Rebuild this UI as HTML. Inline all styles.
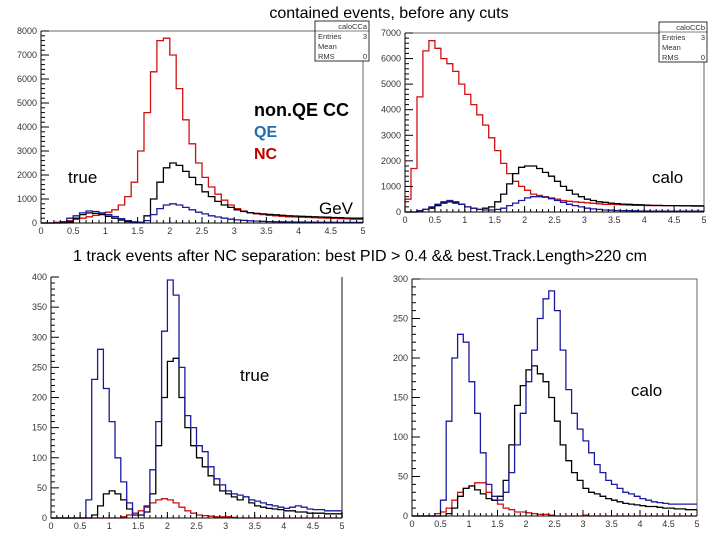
<!DOCTYPE html>
<html><head><meta charset="utf-8"><style>
body{margin:0;background:#fff;width:720px;height:540px;overflow:hidden;font-family:"Liberation Sans",sans-serif}
svg{position:absolute;left:0;top:0}
</style></head><body>
<svg id="c" width="720" height="540">
<text x="389" y="18" font-size="16" text-anchor="middle">contained events, before any cuts</text>
<text x="73" y="261" font-size="16" textLength="574">1 track events after NC separation: best PID &gt; 0.4 &amp;&amp; best.Track.Length&gt;220 cm</text>
<text x="254" y="116" font-size="18" font-weight="bold" fill="#000">non.QE CC</text>
<text x="254" y="137" font-size="16" font-weight="bold" fill="#1f6fb0">QE</text>
<text x="254" y="159" font-size="16" font-weight="bold" fill="#c00000">NC</text>
<text x="68" y="183" font-size="17">true</text>
<text x="319" y="214" font-size="17">GeV</text>
<text x="652" y="183" font-size="17">calo</text>
<text x="240" y="381" font-size="17">true</text>
<text x="631" y="396" font-size="17">calo</text>
</svg>
<script>
const xTicks=[0,0.5,1,1.5,2,2.5,3,3.5,4,4.5,5];
// Panel 1: true, before cuts
const p1Red=[0,0,30,60,100,150,200,260,320,380,450,550,750,1100,1700,3000,4600,6300,7600,7700,7000,5600,4300,3300,2500,1900,1500,1200,950,750,600,500,430,380,350,320,300,280,260,250,240,230,220,210,200,190,180,170,160,160];
const p1Black=[0,0,0,0,50,200,350,420,400,350,280,200,120,60,30,20,300,1000,1700,2300,2500,2400,2150,1900,1600,1300,1100,900,750,650,550,480,430,400,380,360,340,320,300,290,280,270,260,250,240,230,220,210,200,200];
const p1Blue=[0,0,0,50,200,300,420,500,480,420,350,270,180,100,50,30,100,350,600,750,800,750,650,550,450,380,300,250,200,160,130,110,90,80,70,60,55,50,45,40,40,35,35,30,30,30,25,25,25,25];
const p1YTicks=[0,1000,2000,3000,4000,5000,6000,7000,8000];
// Panel 2: calo, before cuts
const p2Red=[500,1700,4500,6300,6700,6400,6000,5800,5500,5000,4600,4200,3800,3400,2900,2400,1900,1500,1200,1000,850,700,650,600,550,500,450,420,400,380,360,340,320,300,300,290,280,270,260,260,250,250,250,250,250,250,250,250,250,250];
const p2Black=[0,0,50,100,150,250,350,400,350,300,200,150,100,150,200,400,700,1100,1500,1750,1800,1800,1700,1550,1400,1200,1000,850,700,600,500,450,400,380,350,330,310,300,290,280,270,260,260,250,250,250,240,240,230,230];
const p2Blue=[0,0,50,100,200,300,400,450,400,300,200,150,100,80,80,100,150,250,350,450,550,600,600,580,520,450,380,300,250,200,150,120,100,80,70,60,55,50,45,40,40,35,35,30,30,30,30,30,30,30];
const p2YTicks=[0,1000,2000,3000,4000,5000,6000,7000];
// Panel 3: true, 1 track
const p3Blue=[0,0,0,0,0,0,30,230,280,215,160,100,60,25,5,5,20,80,160,310,395,370,250,170,150,120,110,85,65,55,45,40,38,35,30,28,25,22,20,18,16,18,20,18,15,14,14,12,12,12];
const p3Black=[0,0,0,0,0,0,0,5,20,40,45,40,30,15,5,5,10,40,120,200,260,265,200,150,120,100,85,70,55,45,40,35,30,35,25,20,18,16,15,14,12,12,10,10,8,8,8,7,7,7];
const p3Red=[0,0,0,0,0,0,0,0,0,0,0,0,2,5,8,12,18,25,30,32,30,25,18,12,8,5,4,3,2,2,2,1,0,0,0,0,0,0,0,0,0,0,0,0,0,0,0,0,0,0];
const p3YTicks=[0,50,100,150,200,250,300,350,400];
// Panel 4: calo, 1 track
const p4Blue=[0,0,0,0,0,20,120,200,230,220,170,130,80,40,25,20,30,55,90,130,170,210,250,275,285,260,210,160,130,110,95,80,65,55,45,40,35,30,28,25,22,20,18,17,16,15,15,15,15,15];
const p4Black=[0,0,0,0,0,0,3,10,25,35,38,33,28,22,20,25,45,90,140,165,185,190,180,170,150,120,90,70,55,45,35,30,28,25,22,20,18,16,15,14,13,12,12,11,10,10,9,9,8,8];
const p4Red=[0,0,0,0,3,5,10,20,30,35,38,42,42,30,20,15,10,8,5,5,4,3,2,2,1,0,0,0,0,0,1,0,0,0,0,0,0,0,0,0,0,0,0,0,0,0,0,0,0,0];
const p4YTicks=[0,50,100,150,200,250,300];

const svg=document.getElementById('c');
const NS='http://www.w3.org/2000/svg';
function mk(tag,attrs,parent){const e=document.createElementNS(NS,tag);for(const k in attrs)e.setAttribute(k,attrs[k]);(parent||svg).appendChild(e);return e;}

function panel(name,x0,x1,y0,y1,ymax,yTicks,series,stats,frameTop){
  const g=mk('g',{});
  
  
  const sx=v=>x0+(x1-x0)*v/5, sy=v=>y0-(y0-y1)*v/ymax;
  if(frameTop){const t=mk('path',{d:`M${x0} ${y1}H${x1}V${y0}`,stroke:'#666','stroke-width':1,fill:'none'},g);
    }
  else{const t=mk('line',{x1:x1,y1:y1,x2:x1,y2:y0,stroke:'#888','stroke-width':2},g);
    }
  series.forEach(s=>{
    let d=`M${sx(0)} ${sy(0)}`;
    s.data.forEach((v,i)=>{d+=`V${sy(v).toFixed(1)}H${sx((i+1)*0.1).toFixed(1)}`;});
    const p=mk('path',{d:d,stroke:s.color,'stroke-width':1.3,fill:'none'},g);
    
    
  });
  const ax=mk('path',{d:`M${x0} ${y1}V${y0}H${x1}`,stroke:'#000','stroke-width':1,fill:'none'},g);
  
  xTicks.forEach((t,i)=>{
    mk('line',{x1:sx(t),x2:sx(t),y1:y0,y2:y0-6,stroke:'#000'},g);
    const tx=mk('text',{x:sx(t),y:y0+11,'font-size':9,'text-anchor':'middle',fill:'#333'},g);
    tx.textContent=String(t);
    
  });
  for(let v=0.1;v<5;v+=0.1){mk('line',{x1:sx(v),x2:sx(v),y1:y0,y2:y0-3,stroke:'#000'},g);}
  const step=yTicks[1]-yTicks[0];
  yTicks.forEach(t=>{
    mk('line',{x1:x0,x2:x0+8,y1:sy(t),y2:sy(t),stroke:'#000'},g);
    const tx=mk('text',{x:x0-4,y:sy(t)+3,'font-size':9,'text-anchor':'end',fill:'#333'},g);
    tx.textContent=String(t);
    
    for(let k=1;k<5;k++){const v=t+k*step/5;if(v<ymax)mk('line',{x1:x0,x2:x0+4,y1:sy(v),y2:sy(v),stroke:'#000'},g);}
  });
  if(stats){
    const b=mk('g',{},g);
    
    mk('rect',{x:stats[0],y:stats[1],width:stats[2],height:40,fill:'#fff',stroke:'#000','stroke-width':0.8},b);
    mk('line',{x1:stats[0],x2:stats[0]+stats[2],y1:stats[1]+10,y2:stats[1]+10,stroke:'#000','stroke-width':0.6},b);
    const rows=[['',stats[3]],['Entries','3'],['Mean',''],['RMS','0']];
    rows.forEach((r,i)=>{
      const a=mk('text',{x:stats[0]+3,y:stats[1]+8+i*10,'font-size':7.5,fill:'#333'},b);a.textContent=r[0];
      const c=mk('text',{x:stats[0]+stats[2]-2,y:stats[1]+8+i*10,'font-size':7.5,'text-anchor':'end',fill:'#333'},b);c.textContent=r[1];
    });
  }
}
panel('panel-true-before',41,363,223,31,8000,p1YTicks,
  [{name:'p1-nc',data:p1Red,color:'#d01010'},{name:'p1-nonqe',data:p1Black,color:'#000'},{name:'p1-qe',data:p1Blue,color:'#1a1aa0'}],
  [315,21,54,'caloCCa'],true);
panel('panel-calo-before',405,704,212,33,7000,p2YTicks,
  [{name:'p2-nc',data:p2Red,color:'#d01010'},{name:'p2-nonqe',data:p2Black,color:'#000'},{name:'p2-qe',data:p2Blue,color:'#1a1aa0'}],
  [659,22,48,'caloCCb'],true);
panel('panel-true-1track',51,342,518,277,400,p3YTicks,
  [{name:'p3-nc',data:p3Red,color:'#d01010'},{name:'p3-nonqe',data:p3Black,color:'#000'},{name:'p3-qe',data:p3Blue,color:'#1a1aa0'}],
  null,false);
panel('panel-calo-1track',412,697,516,279,300,p4YTicks,
  [{name:'p4-nc',data:p4Red,color:'#d01010'},{name:'p4-nonqe',data:p4Black,color:'#000'},{name:'p4-qe',data:p4Blue,color:'#1a1aa0'}],
  null,true);
</script>
</body></html>
